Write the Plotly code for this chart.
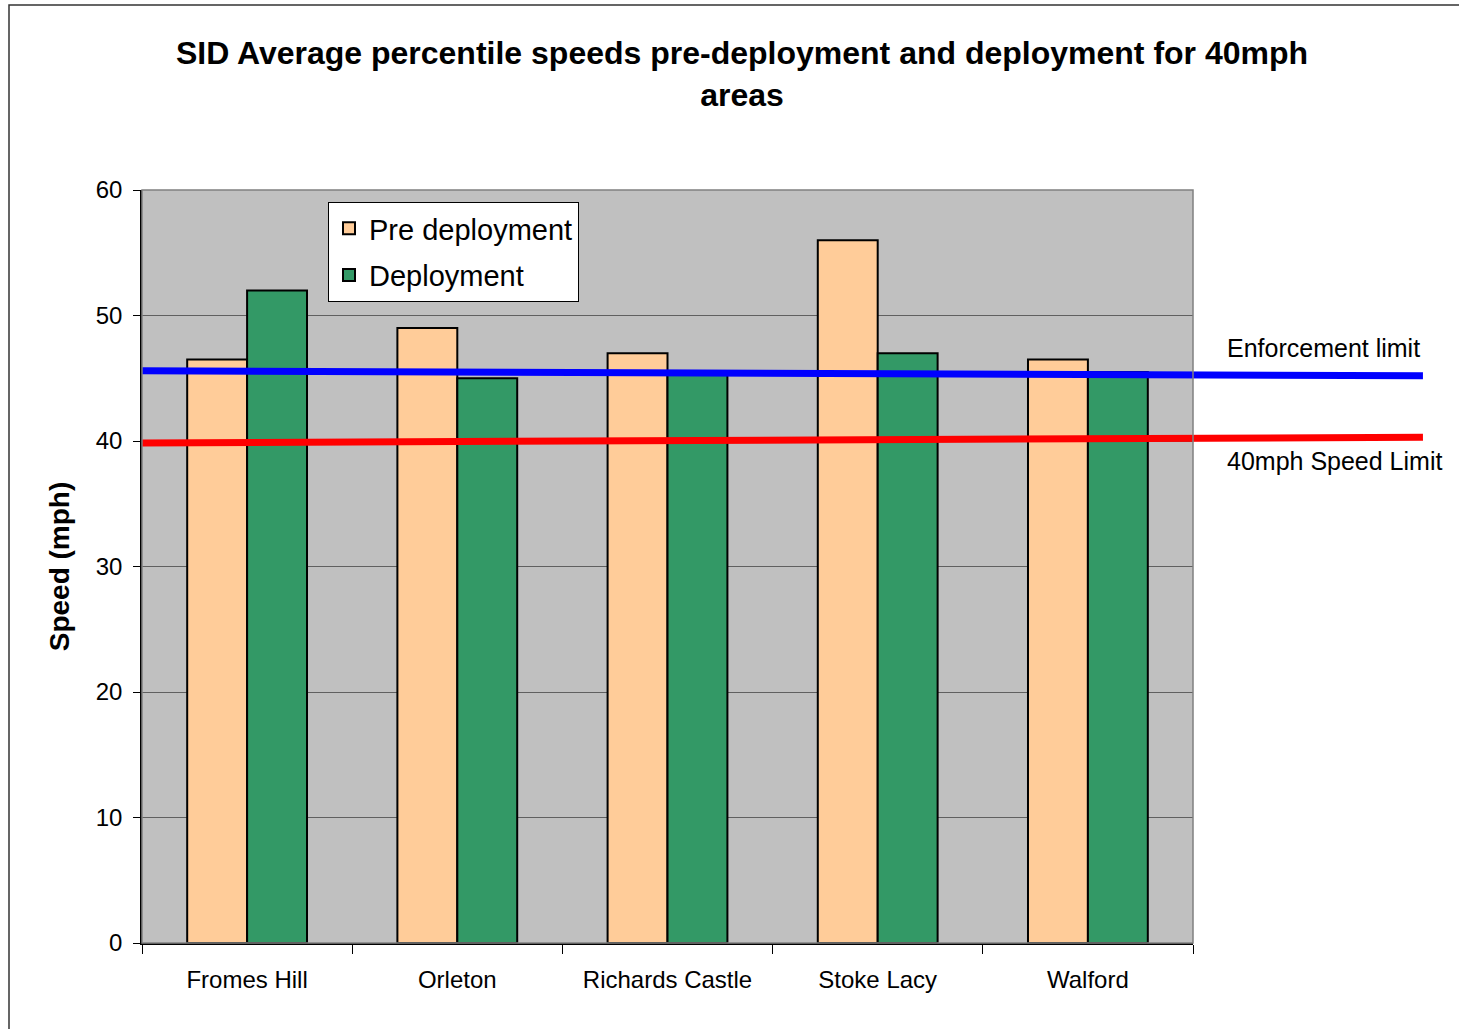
import plotly.graph_objects as go

# Sites and average percentile speeds (mph)
sites = ["Fromes Hill", "Orleton", "Richards Castle", "Stoke Lacy", "Walford"]
pre_deployment = [46.5, 49.0, 47.0, 56.0, 46.5]
deployment = [52.0, 45.0, 45.4, 47.0, 45.5]

# Reference lines as drawn (start / end level, mph)
enforcement_limit = [45.6, 45.2]
speed_limit = [39.85, 40.3]

y_ticks = [0, 10, 20, 30, 40, 50, 60]

FONT = "Liberation Sans, Arial, sans-serif"

fig = go.Figure()
fig.add_trace(go.Bar(
    x=sites, y=pre_deployment, name="Pre deployment",
    marker=dict(color="#FFCC99", line=dict(color="black", width=2)),
    legendgroup="a",
))
fig.add_trace(go.Bar(
    x=sites, y=deployment, name="Deployment",
    marker=dict(color="#339966", line=dict(color="black", width=2)),
    legendgroup="b",
))

LINE_END = 1.2188  # lines run out past the plot area to the labels

fig.add_shape(type="line", xref="paper", yref="y", x0=0, x1=LINE_END,
              y0=enforcement_limit[0], y1=enforcement_limit[1],
              line=dict(color="#0000FF", width=7), layer="above")
fig.add_shape(type="line", xref="paper", yref="y", x0=0, x1=LINE_END,
              y0=speed_limit[0], y1=speed_limit[1],
              line=dict(color="#FF0000", width=7), layer="above")

# plot-area border
fig.add_shape(type="rect", xref="paper", yref="paper", x0=0, x1=1, y0=0, y1=1,
              line=dict(color="#808080", width=1.5), layer="above")
# chart-area border
fig.add_shape(type="rect", xref="paper", yref="paper",
              x0=(9 - 142) / 1051, x1=(1480 - 142) / 1051,
              y0=(943 - 1045) / 753, y1=(943 - 5) / 753,
              line=dict(color="#333333", width=1.5), layer="above")

fig.add_annotation(text="Enforcement limit", xref="paper", yref="paper",
                   x=(1225 - 142) / 1051, y=(943 - 348) / 753,
                   xanchor="left", yanchor="middle", showarrow=False,
                   font=dict(family=FONT, size=25, color="black"))
fig.add_annotation(text="40mph Speed Limit", xref="paper", yref="paper",
                   x=(1225 - 142) / 1051, y=(943 - 461) / 753,
                   xanchor="left", yanchor="middle", showarrow=False,
                   font=dict(family=FONT, size=25, color="black"))

fig.update_layout(
    width=1459, height=1029,
    margin=dict(l=142, r=266, t=190, b=86),
    paper_bgcolor="white",
    plot_bgcolor="#C0C0C0",
    barmode="group", bargap=0.43, bargroupgap=0,
    title=dict(
        text="SID Average percentile speeds pre-deployment and deployment for 40mph<br>areas",
        x=(742 - 142) / 1051, xref="paper", xanchor="center",
        y=(1029 - 64) / 1029, yanchor="middle",
        font=dict(family=FONT, size=32, color="black", weight="bold"),
    ),
    font=dict(family=FONT, color="black"),
    showlegend=True,
    legend=dict(
        x=(328 - 142) / 1051, y=(943 - 202) / 753,
        xanchor="left", yanchor="top",
        bgcolor="white", bordercolor="black", borderwidth=1,
        font=dict(family=FONT, size=29, color="black"),
        traceorder="grouped", tracegroupgap=6,
    ),
    xaxis=dict(
        showgrid=False, showline=True, linecolor="black", linewidth=1.5,
        ticks="outside", tickson="boundaries", ticklen=9, tickcolor="black",
        ticklabelstandoff=14,
        tickfont=dict(family=FONT, size=24, color="black"),
    ),
    yaxis=dict(
        range=[0, 60], tickvals=y_ticks,
        showgrid=True, gridcolor="#606060", gridwidth=1,
        zeroline=False,
        showline=True, linecolor="black", linewidth=1.5,
        ticks="outside", ticklen=7, tickcolor="black",
        ticklabelstandoff=6,
        tickfont=dict(family=FONT, size=24, color="black"),
        title=dict(text="Speed (mph)", standoff=18,
                   font=dict(family=FONT, size=28, color="black", weight="bold")),
    ),
)

fig.write_html("out.html")
